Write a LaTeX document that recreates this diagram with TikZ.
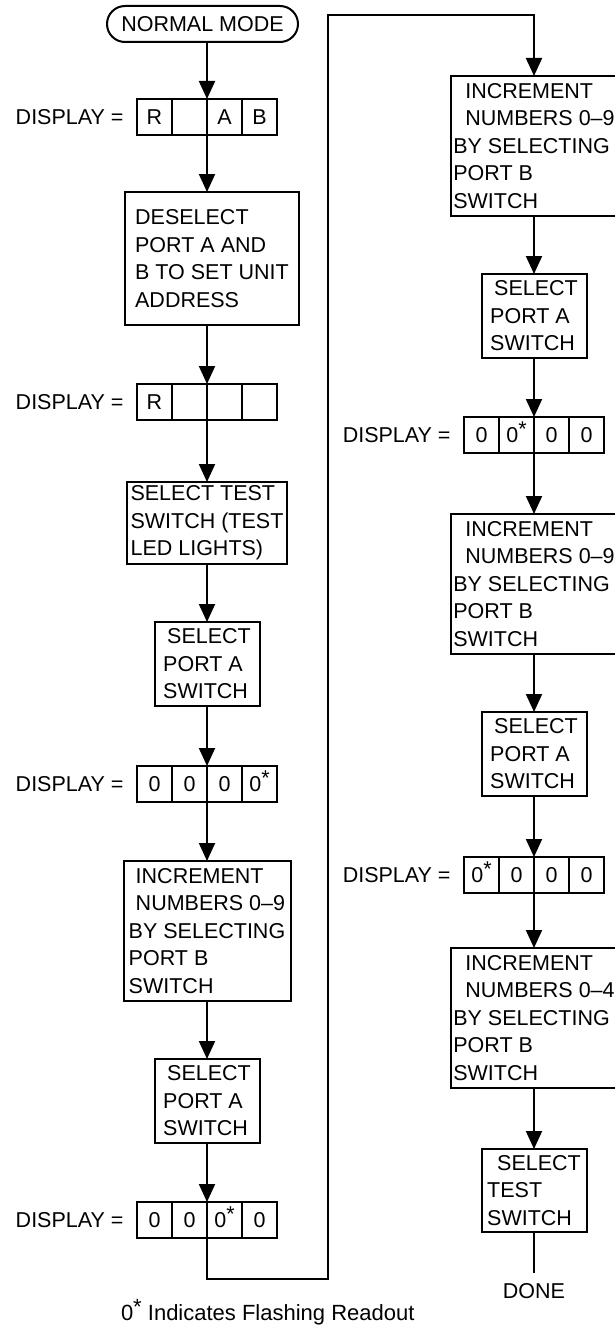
\documentclass[tikz,border=0pt]{standalone}
\usepackage{fontspec}
\setmainfont{Liberation Sans}
\usetikzlibrary{arrows.meta,fit,positioning}

% a readout row: four cells, with the DISPLAY label in front
\newcommand{\readout}[6]{%
  \node[cell,#2,xshift=-52.5pt] (#1-1) {#3};
  \node[cell,right=0pt of #1-1] (#1-2) {#4};
  \node[cell,right=0pt of #1-2] (#1-3) {#5};
  \node[cell,right=0pt of #1-3] (#1-4) {#6};
  \node[fit=(#1-1)(#1-4),inner sep=0pt] (#1) {};
  \node[left=13.5pt of #1-1,inner sep=0pt] (#1-lbl) {DISPLAY =};
}
\newcommand{\flash}{0\raisebox{6pt}{*}}

\begin{document}
\begin{tikzpicture}[x=1pt,y=1pt,font=\fontsize{21.5}{27.5}\selectfont,line width=2pt,outer sep=0pt,
    box/.style={draw,align=left,inner xsep=0pt,inner ysep=2pt},
    selbox/.style={box,minimum width=105pt,minimum height=84pt},
    incbox/.style={box,minimum width=167pt,minimum height=140pt},
    term/.style={draw,rounded corners=18pt,minimum width=191pt,minimum height=36pt,inner sep=0pt},
    cell/.style={draw,minimum width=35pt,minimum height=36pt,inner sep=0pt,text height=15pt,text depth=0pt},
    flow/.style={-{Triangle[length=18pt,width=16pt]}}]
    \useasboundingbox (0,0) rectangle (615,-1327);
    \clip (0,0) rectangle (615,-1327);

    % left column
    \node[term] (start) at (202.5,-24) {NORMAL MODE};
    \readout{d1}{below=57pt of start,xshift=4.5pt}{R}{}{A}{B}
    \node[box,minimum width=174pt,minimum height=133pt,below=57pt of d1,xshift=5pt] (desel) {DESELECT\\PORT A AND\\B TO SET UNIT\\ADDRESS};
    \readout{d2}{below=59pt of desel,xshift=-5pt}{R}{}{}{}
    \node[box,minimum width=160pt,minimum height=82pt,below=62pt of d2] (test1) {SELECT TEST\\SWITCH (TEST\\LED LIGHTS)};
    \node[selbox,below=58pt of test1] (porta1) {\hspace*{4pt}SELECT\\PORT A\\SWITCH};
    \readout{d3}{below=60pt of porta1}{0}{0}{0}{\flash}
    \node[incbox,below=59pt of d3] (incr1) {\hspace*{7pt}INCREMENT\\\hspace*{7pt}NUMBERS 0--9\\BY SELECTING\\PORT B\\SWITCH};
    \node[selbox,below=58pt of incr1] (porta2) {\hspace*{4pt}SELECT\\PORT A\\SWITCH};
    \readout{d4}{below=59pt of porta2}{0}{0}{\flash}{0}

    % right column
    \node[incbox,anchor=north] (incr2) at (534,-76) {\hspace*{12pt}INCREMENT\\\hspace*{12pt}NUMBERS 0--9\\BY SELECTING\\PORT B\\SWITCH};
    \node[selbox,below=58pt of incr2] (porta3) {\hspace*{4pt}SELECT\\PORT A\\SWITCH};
    \readout{d5}{below=59pt of porta3}{0}{\flash}{0}{0}
    \node[incbox,below=61pt of d5] (incr3) {\hspace*{12pt}INCREMENT\\\hspace*{12pt}NUMBERS 0--9\\BY SELECTING\\PORT B\\SWITCH};
    \node[selbox,below=58pt of incr3] (porta4) {\hspace*{4pt}SELECT\\PORT A\\SWITCH};
    \readout{d6}{below=61pt of porta4}{\flash}{0}{0}{0}
    \node[incbox,below=55pt of d6] (incr4) {\hspace*{12pt}INCREMENT\\\hspace*{12pt}NUMBERS 0--4\\BY SELECTING\\PORT B\\SWITCH};
    \node[selbox,minimum height=83pt,below=61pt of incr4] (test2) {\hspace*{10pt}SELECT\\TEST\\SWITCH};
    \node[below=41pt of test2,inner sep=10pt] (done) {DONE};

    \node[anchor=base west,inner sep=0pt,font=\fontsize{22}{26}\selectfont] (note) at (121,-1320) {\flash{} Indicates Flashing Readout};

    % connectors
    \draw[flow] (start.south -| d1.north) -- (d1.north);
    \draw[flow] (d1.south) -- (d1.south |- desel.north);
    \draw[flow] (desel.south -| d2.north) -- (d2.north);
    \draw[flow] (d2) -- (test1);
    \draw[flow] (test1) -- (porta1);
    \draw[flow] (porta1) -- (d3);
    \draw[flow] (d3) -- (incr1);
    \draw[flow] (incr1) -- (porta2);
    \draw[flow] (porta2) -- (d4);
    \coordinate (turn1) at (328,-1279);
    \coordinate (turn2) at (328,-15);
    \draw[flow] (d4) |- (turn1) -- (turn2) -| (incr2);
    \draw[flow] (incr2) -- (porta3);
    \draw[flow] (porta3) -- (d5);
    \draw[flow] (d5) -- (incr3);
    \draw[flow] (incr3) -- (porta4);
    \draw[flow] (porta4) -- (d6);
    \draw[flow] (d6) -- (incr4);
    \draw[flow] (incr4) -- (test2);
    \draw (test2) -- (done);
\end{tikzpicture}
\end{document}
